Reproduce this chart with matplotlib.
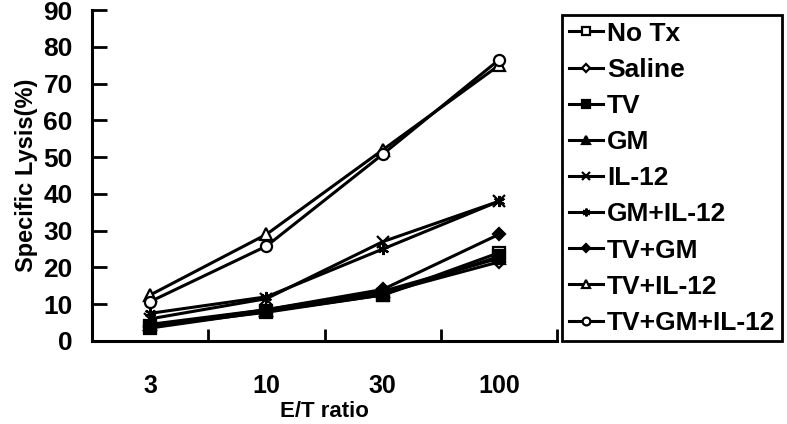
import matplotlib
matplotlib.use("Agg")
import matplotlib.pyplot as plt
import numpy as np

plt.rcParams["font.family"] = ["Liberation Sans", "DejaVu Sans"]
plt.rcParams["font.weight"] = "bold"

ratios = ["3", "10", "30", "100"]

# specific lysis (%) per group
no_tx = [3.5, 8.0, 12.5, 24.0]
saline = [3.8, 8.2, 13.0, 21.5]
tv = [4.0, 7.8, 12.5, 23.0]
gm = [4.5, 8.5, 13.5, 22.5]
il12 = [6.0, 11.5, 27.0, 38.0]
gm_il12 = [7.5, 12.0, 25.0, 38.0]
tv_gm = [4.0, 8.5, 14.0, 29.0]
tv_il12 = [12.5, 29.0, 52.0, 75.0]
tv_gm_il12 = [10.7, 25.8, 50.8, 76.5]

series = [
    ("No Tx", no_tx, "s", "white"),
    ("Saline", saline, "D", "white"),
    ("TV", tv, "s", "black"),
    ("GM", gm, "^", "black"),
    ("IL-12", il12, "x", "black"),
    ("GM+IL-12", gm_il12, (6, 2, 0), "black"),
    ("TV+GM", tv_gm, "D", "black"),
    ("TV+IL-12", tv_il12, "^", "white"),
    ("TV+GM+IL-12", tv_gm_il12, "o", "white"),
]

fig = plt.figure(figsize=(7.87, 4.24), dpi=100)
ax = fig.add_axes([0.117, 0.196, 0.591, 0.78])

x = np.arange(len(ratios))
for label, vals, marker, face in series:
    ms = 6 if marker == "D" else 8
    ax.plot(x, vals, color="black", linewidth=2.2, marker=marker,
            markersize=ms, markerfacecolor=face, markeredgecolor="black",
            markeredgewidth=1.6, label=label)

ax.set_xlim(-0.5, len(ratios) - 0.5)
ax.set_ylim(0, 90)
ax.set_yticks(np.arange(0, 91, 10))

# category boundaries get the ticks, labels sit in the middle
ax.set_xticks(np.arange(-0.5, len(ratios), 1.0))
ax.set_xticklabels([])
ax.set_xticks(x, minor=True)
ax.set_xticklabels(ratios, minor=True)
ax.tick_params(axis="x", which="minor", length=0, pad=24, labelsize=18)
ax.tick_params(axis="x", which="major", direction="in", length=9, width=2)
ax.tick_params(axis="y", direction="in", length=11, width=2, labelsize=19, pad=14)

for side in ("top", "right"):
    ax.spines[side].set_visible(False)
for side in ("left", "bottom"):
    ax.spines[side].set_linewidth(2.2)

ax.set_ylabel("Specific Lysis(%)", fontsize=17, fontweight="bold", labelpad=4)
ax.set_xlabel("E/T ratio", fontsize=16, fontweight="bold", labelpad=2)

leg = ax.legend(loc="upper left", bbox_to_anchor=(1.011, 0.985), fontsize=19,
                frameon=True, fancybox=False, edgecolor="black", framealpha=1,
                handlelength=1.3, handletextpad=0.15, borderpad=0.25,
                labelspacing=0.46, markerscale=0.7, borderaxespad=0)
leg.get_frame().set_linewidth(2.0)
leg.set_clip_on(False)

fig.savefig("out.png", dpi=100)
